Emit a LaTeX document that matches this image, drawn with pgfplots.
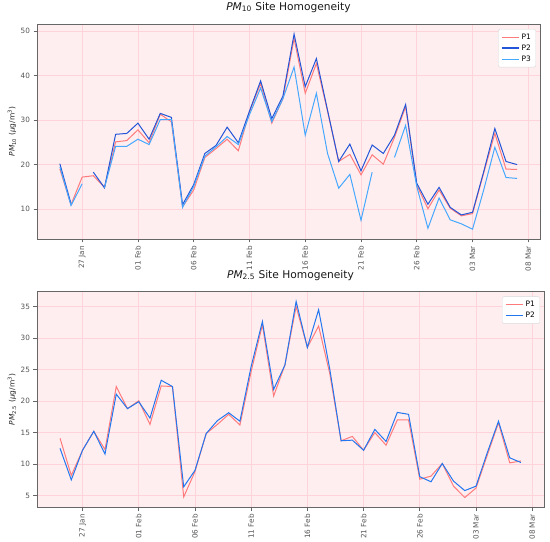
\documentclass[border=0pt]{standalone}
\usepackage{pgfplots}
\pgfplotsset{compat=1.18}
\usepackage{pgfplotstable}
\usepackage{fontspec}
\setmainfont{DejaVu Sans}
\definecolor{bgpink}{HTML}{FFEEF0}
\definecolor{gridpink}{HTML}{FFD3DA}
\definecolor{cpone}{HTML}{FF7B7B}
\definecolor{cptwo}{HTML}{2255D8}
\definecolor{cptwob}{HTML}{2277F0}
\definecolor{cpthree}{HTML}{45A8FF}
\definecolor{framegray}{HTML}{666666}
\definecolor{ticktext}{HTML}{555555}

\pgfplotstableread{
d P1 P2 P3
-2 19.0 20.2 19.5
-1 11.0 11.2 10.8
0 17.2 nan 15.7
1 17.5 18.3 nan
2 14.9 14.8 14.8
3 25.1 26.8 24.1
4 25.4 27.0 24.1
5 27.8 29.3 25.7
6 24.9 25.7 24.5
7 31.3 31.5 30.1
8 29.6 30.6 30.1
9 10.5 11.0 10.4
10 14.3 15.5 15.1
11 21.6 22.5 21.9
12 23.6 24.3 24.0
13 25.7 28.4 26.3
14 23.1 24.9 24.5
15 31.8 32.0 31.2
16 38.2 38.8 37.2
17 29.3 30.3 29.6
18 34.8 35.4 34.8
19 48.3 49.3 41.9
20 36.0 37.5 26.6
21 42.7 43.8 36.0
22 32.0 32.2 22.5
23 20.7 20.7 14.7
24 22.3 24.6 17.8
25 17.7 18.6 7.5
26 22.2 24.4 18.3
27 20.1 22.5 nan
28 26.1 26.6 21.6
29 33.0 33.5 28.8
30 15.4 15.8 15.1
31 10.1 11.1 5.7
32 14.3 14.9 12.5
33 10.2 10.4 7.6
34 8.5 8.7 6.7
35 9.0 9.3 5.5
36 18.1 18.4 14.3
37 27.0 28.1 23.9
38 19.0 20.7 17.1
39 18.9 20.0 16.9
}\pmten

\pgfplotstableread{
d P1 P2
-2 14.1 12.5
-1 8.2 7.5
0 12.2 12.2
1 15.2 15.2
2 12.3 11.6
3 22.3 21.1
4 18.8 18.8
5 20.05 19.9
6 16.3 17.3
7 22.4 23.3
8 22.3 22.3
9 4.8 6.4
10 8.8 9.0
11 14.85 14.85
12 16.3 16.9
13 17.9 18.15
14 16.2 16.8
15 24.7 25.5
16 32.1 32.6
17 20.8 21.85
18 25.7 25.7
19 35.0 35.8
20 28.5 28.5
21 31.9 34.5
22 24.3 25.0
23 13.7 13.7
24 14.4 13.8
25 12.2 12.2
26 15.0 15.5
27 13.0 13.6
28 17.0 18.2
29 17.0 17.9
30 7.6 8.0
31 8.1 7.2
32 10.1 10.1
33 6.5 7.3
34 4.7 5.8
35 6.2 6.5
36 11.4 11.8
37 16.55 16.8
38 10.2 11.0
39 10.5 10.25
}\pmtwofive

\pgfplotsset{
  homog/.style={
    scale only axis,
    anchor=south west,
    xmin=-4.05, xmax=41.05,
    xtick={0,5,10,15,20,25,30,35,40},
    xticklabels={27 Jan,01 Feb,06 Feb,11 Feb,16 Feb,21 Feb,26 Feb,03 Mar,08 Mar},
    xticklabel style={rotate=90, anchor=east, font=\fontsize{7.3}{8}\selectfont, text=ticktext},
    yticklabel style={font=\fontsize{7.3}{8}\selectfont, text=ticktext},
    /pgf/number format/assume math mode=true,
    tick align=outside,
    xtick pos=left, ytick pos=left,
    major tick length=3.5bp,
    tick style={framegray, line width=0.6pt},
    axis line style={framegray, line width=0.8pt},
    grid=major,
    major grid style={gridpink, line width=0.6pt},
    axis background/.style={fill=bgpink},
    unbounded coords=jump,
    title style={at={(0.5,1)}, anchor=base, font=\fontsize{10.7}{12}\selectfont, text=black!90},
    ylabel style={anchor=center, font=\fontsize{7.5}{9}\selectfont, text=black!85},
    legend style={anchor=north east, draw=black!15, fill=white,
      rounded corners=1.5pt, font=\fontsize{7.5}{8.5}\selectfont, row sep=0pt,
      inner xsep=3pt, inner ysep=2.5pt},
    legend cell align=left,
    legend image post style={line width=1.3pt},
  }
}

\begin{document}
\begin{tikzpicture}[x=1bp,y=1bp]
\useasboundingbox (0,0) rectangle (550,542);
\begin{axis}[homog,
  at={(37bp,303bp)}, width=503bp, height=214.7bp,
  ymin=3.3, ymax=51.5,
  ytick={10,20,30,40,50},
  title={\textit{PM}\textsubscript{10} Site Homogeneity},
  title style={yshift=8.3bp},
  ylabel={\textit{PM}\textsubscript{10} (\textit{μ}g/m\textsuperscript{3})},
  ylabel style={at={(axis description cs:-0.0497,0.5)}},
  legend style={at={(axis description cs:0.992,0.978)}},
]
\addplot[cpone, line width=1pt] table[x=d, y=P1] {\pmten};
\addlegendentry{P1}
\addplot[cptwo, line width=1pt] table[x=d, y=P2] {\pmten};
\addlegendentry{P2}
\addplot[cpthree, line width=1pt] table[x=d, y=P3] {\pmten};
\addlegendentry{P3}
\end{axis}
\begin{axis}[homog,
  at={(37bp,34.7bp)}, width=507bp, height=215.6bp,
  ymin=3.15, ymax=37.35,
  ytick={5,10,15,20,25,30,35},
  title={\textit{PM}\textsubscript{2.5} Site Homogeneity},
  title style={yshift=7.7bp},
  ylabel={\textit{PM}\textsubscript{2.5} (\textit{μ}g/m\textsuperscript{3})},
  ylabel style={at={(axis description cs:-0.0493,0.5)}},
  legend style={at={(axis description cs:0.992,0.978)}},
]
\addplot[cpone, line width=1pt] table[x=d, y=P1] {\pmtwofive};
\addlegendentry{P1}
\addplot[cptwob, line width=1pt] table[x=d, y=P2] {\pmtwofive};
\addlegendentry{P2}
\end{axis}
\end{tikzpicture}
\end{document}
